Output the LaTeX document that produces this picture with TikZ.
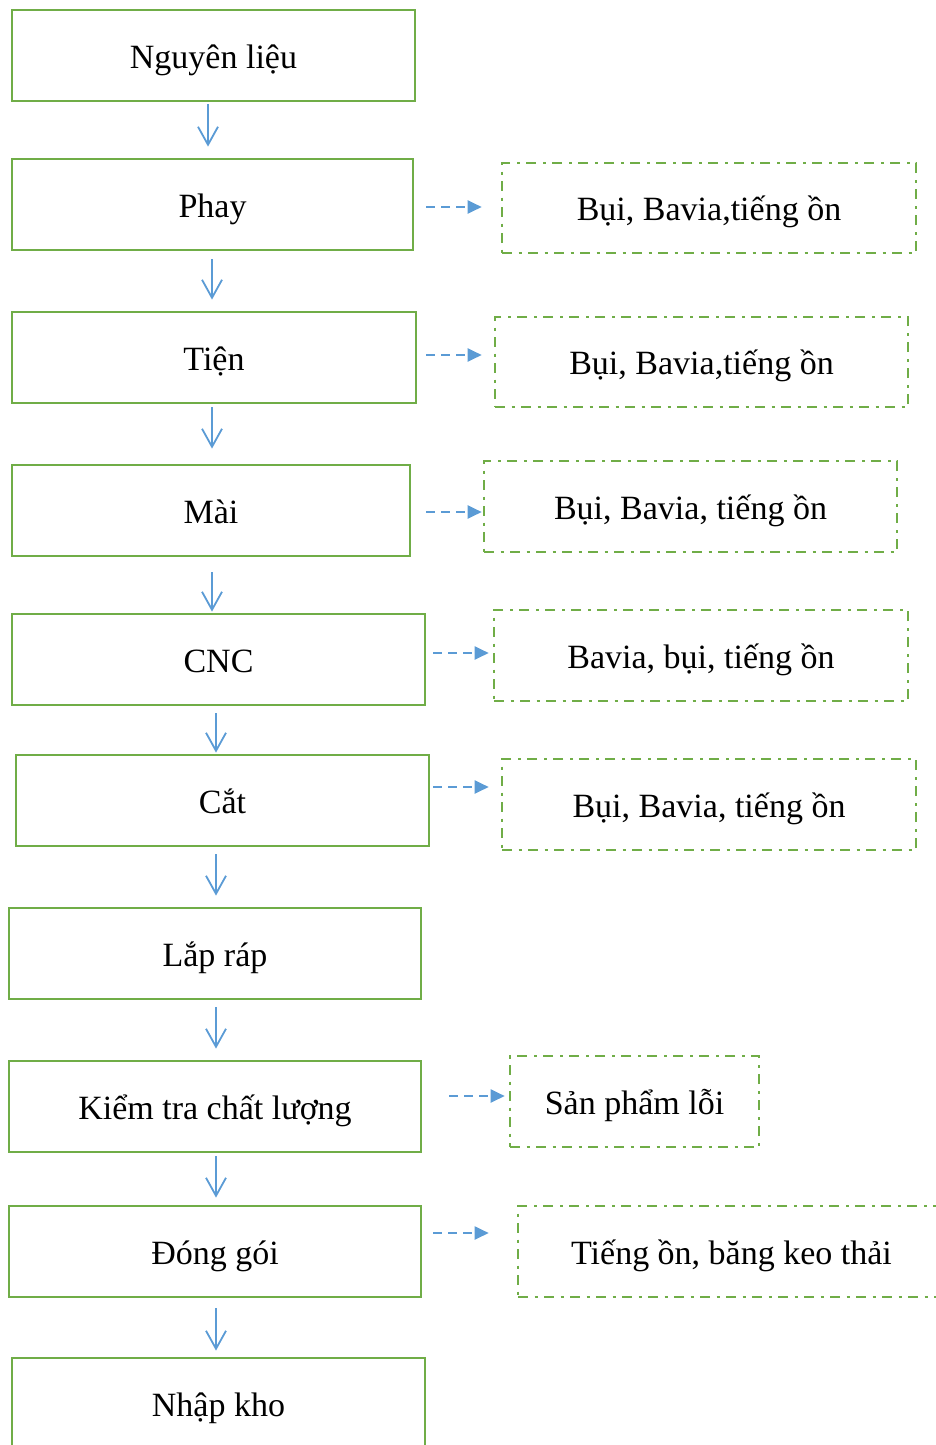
\documentclass[tikz,border=0pt]{standalone}
\usepackage{fontspec}
\setmainfont{Liberation Serif}
\usetikzlibrary{arrows.meta}
\definecolor{boxgreen}{HTML}{70AD47}
\definecolor{flowblue}{HTML}{5B9BD5}
\begin{document}
\begin{tikzpicture}[x=1pt,y=-1pt,
  stage/.style={draw=boxgreen, line width=2.8pt, minimum width=#1,
    minimum height=91pt, inner sep=0pt, text height=30pt, text depth=5pt,
    font=\fontsize{34}{40}\selectfont},
  waste/.style={draw=boxgreen, line width=2.6pt, minimum width=#1,
    minimum height=90pt, inner sep=0pt, text height=30pt, text depth=5pt,
    font=\fontsize{34}{40}\selectfont,
    dash pattern=on 10pt off 6.5pt on 3pt off 6.5pt},
  flow/.style={draw=flowblue, line width=1.8pt,
    -{Straight Barb[length=18pt,width=20pt]}},
  sidearr/.style={draw=flowblue, line width=2pt, dash pattern=on 9pt off 6pt,
    -{Triangle[length=14pt,width=13pt]}}]
\useasboundingbox (0,0) rectangle (936,1445);

% process stages
\node[stage=403pt] (n1) at (213.5,55.5) {Nguyên liệu};
\node[stage=401pt] (n2) at (212.5,204.5) {Phay};
\node[stage=404pt] (n3) at (214,357.5) {Tiện};
\node[stage=398pt] (n4) at (211,510.5) {Mài};
\node[stage=413pt] (n5) at (218.5,659.5) {CNC};
\node[stage=413pt] (n6) at (222.5,800.5) {Cắt};
\node[stage=412pt] (n7) at (215,953.5) {Lắp ráp};
\node[stage=412pt] (n8) at (215,1106.5) {Kiểm tra chất lượng};
\node[stage=412pt] (n9) at (215,1251.5) {Đóng gói};
\node[stage=413pt] (n10) at (218.5,1403.5) {Nhập kho};

% by-products
\node[waste=414pt] (s1) at (709,208) {Bụi, Bavia,tiếng ồn};
\node[waste=413pt] (s2) at (701.5,362) {Bụi, Bavia,tiếng ồn};
\node[waste=413pt, minimum height=91pt] (s3) at (690.5,506.5) {Bụi, Bavia, tiếng ồn};
\node[waste=414pt, minimum height=91pt] (s4) at (701,655.5) {Bavia, bụi, tiếng ồn};
\node[waste=414pt, minimum height=91pt] (s5) at (709,804.5) {Bụi, Bavia, tiếng ồn};
\node[waste=249pt, minimum height=91pt] (s6) at (634.5,1101.5) {Sản phẩm lỗi};
\node[waste=427pt, minimum height=91pt] (s7) at (731.5,1251.5) {Tiếng ồn, băng keo thải};

% main flow
\draw[flow, shorten <=2pt, shorten >=11pt] ([xshift=-5.5pt]n1.south) -- ([xshift=-4.5pt]n2.north);
\draw[flow, shorten <=8pt, shorten >=11pt] ([xshift=-0.5pt]n2.south) -- ([xshift=-2pt]n3.north);
\draw[flow, shorten <=3pt, shorten >=15pt] ([xshift=-2pt]n3.south) -- ([xshift=1pt]n4.north);
\draw[flow, shorten <=15pt, shorten >=1pt] ([xshift=1pt]n4.south) -- ([xshift=-6.5pt]n5.north);
\draw[flow, shorten <=7pt, shorten >=1pt] ([xshift=-2.5pt]n5.south) -- ([xshift=-6.5pt]n6.north);
\draw[flow, shorten <=7pt, shorten >=11pt] ([xshift=-6.5pt]n6.south) -- ([xshift=1pt]n7.north);
\draw[flow, shorten <=7pt, shorten >=11pt] ([xshift=1pt]n7.south) -- ([xshift=1pt]n8.north);
\draw[flow, shorten <=3pt, shorten >=7pt] ([xshift=1pt]n8.south) -- ([xshift=1pt]n9.north);
\draw[flow, shorten <=10pt, shorten >=6pt] ([xshift=1pt]n9.south) -- ([xshift=-2.5pt]n10.north);

% by-product links
\draw[sidearr, shorten <=12pt, shorten >=19pt] ([yshift=-2.5pt]n2.east) -- ([yshift=-2.5pt]n2.east -| s1.west);
\draw[sidearr, shorten <=9pt, shorten >=12pt] ([yshift=2.5pt]n3.east) -- ([yshift=2.5pt]n3.east -| s2.west);
\draw[sidearr, shorten <=15pt, shorten >=1pt] ([yshift=-1.5pt]n4.east) -- ([yshift=-1.5pt]n4.east -| s3.west);
\draw[sidearr, shorten <=7pt, shorten >=4pt] ([yshift=6.5pt]n5.east) -- ([yshift=6.5pt]n5.east -| s4.west);
\draw[sidearr, shorten <=3pt, shorten >=12pt] ([yshift=13.5pt]n6.east) -- ([yshift=13.5pt]n6.east -| s5.west);
\draw[sidearr, shorten <=27pt, shorten >=4pt] ([yshift=10.5pt]n8.east) -- ([yshift=10.5pt]n8.east -| s6.west);
\draw[sidearr, shorten <=11pt, shorten >=28pt] ([yshift=18.5pt]n9.east) -- ([yshift=18.5pt]n9.east -| s7.west);
\end{tikzpicture}
\end{document}
